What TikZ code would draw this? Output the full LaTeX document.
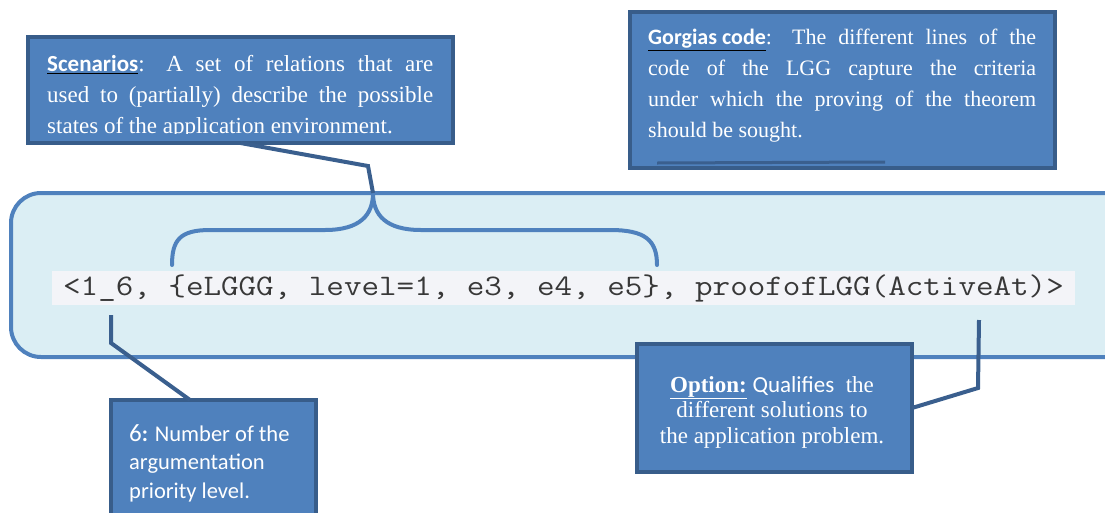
\documentclass[tikz,border=0pt]{standalone}
\usepackage{fontspec}
\setmainfont{Liberation Serif}
\newfontfamily\calib{Carlito}
\newfontfamily\mono[FakeStretch=1.144]{Latin Modern Mono}
\usetikzlibrary{calc}
\definecolor{boxblue}{HTML}{4F81BD}
\definecolor{boxedge}{HTML}{385D8A}
\definecolor{connc}{HTML}{3A5F8E}
\definecolor{lightbg}{HTML}{DBEEF4}
\definecolor{bracec}{HTML}{4F81BD}
\definecolor{stripc}{HTML}{F3F4F8}
\definecolor{codetext}{HTML}{383838}
\newcommand\ulb[1]{{\color{black}\underline{\textcolor{white}{\calib\bfseries #1}}}}
\tikzset{
  infobox/.style={draw=boxedge, fill=boxblue, line width=4pt, inner sep=0pt, outer sep=0pt, anchor=north west},
  conn/.style={draw=connc, line width=4pt},
  bracestyle/.style={draw=bracec, line width=4pt, line cap=round},
  boxtext/.style={text=white, inner sep=0pt, anchor=north west, align=left},
}
\begin{document}
\begin{tikzpicture}[x=1pt,y=-1pt]
\path[use as bounding box] (0,0) rectangle (1105,512);
\clip (0,0) rectangle (1105,512);

% main rounded panel
\node[draw=bracec, fill=lightbg, line width=4pt, rounded corners=30pt,
      minimum width=1125pt, minimum height=164pt, inner sep=0pt, outer sep=0pt,
      anchor=north west] (main) at (11,193) {};

% code strip
\node[fill=stripc, minimum width=1023pt, minimum height=34pt, inner sep=0pt,
      text=codetext, font=\mono\fontsize{29.8pt}{30pt}\selectfont] (code) at (563.5,288)
  {<1\_6, \{eLGGG, level=1, e3, e4, e5\}, proofofLGG(ActiveAt)>};

% brace
\coordinate (tip) at (373,193);
\draw[bracestyle] (172,265) .. controls (172,240) and (180,230) .. (210,230) -- (325,230)
  .. controls (360,230) and (373,215) .. (tip)
  .. controls (373,215) and (386,230) .. (421,230) -- (610,230)
  .. controls (645,230) and (657,240) .. (657,265);

% Scenarios box
\node[infobox, minimum width=425pt, minimum height=106pt] (scen) at (28,37) {};
\begin{scope}
\clip (30,39) rectangle (451,133);
\node[boxtext, font=\fontsize{23pt}{31pt}\selectfont] (scentext) at (47,55)
  {\makebox[386pt][s]{\ulb{Scenarios}: A set of relations that are}\\
   \makebox[386pt][s]{used to (partially) describe the possible}\\
   states of the application environment.};
\end{scope}
\coordinate (s1) at (368,166);
\draw[conn] (scen.south) -- (s1) -- (tip);

% Gorgias box
\node[infobox, minimum width=425pt, minimum height=156pt] (gorg) at (630,12) {};
\node[boxtext, font=\fontsize{22pt}{31pt}\selectfont] (gorgtext) at (648,29)
  {\makebox[388pt][s]{\ulb{Gorgias code}: The different lines of the}\\
   \makebox[388pt][s]{code of the LGG capture the criteria}\\
   \makebox[388pt][s]{under which the proving of the theorem}\\
   should be sought.};
\draw[connc, line width=3pt] ($(gorg.south west)+(27,-5)$) -- ($(gorg.south west)+(255,-6)$);

% 6 box
\node[infobox, minimum width=205pt, minimum height=130pt] (six) at (111,400) {};
\node[boxtext, font=\calib\fontsize{22.5pt}{28.5pt}\selectfont] (sixtext) at (129,424)
  {{\fontsize{25pt}{28.5pt}\selectfont 6}\textbf{:} Number of the\\ argumentation\\ priority level.};
\coordinate (k0) at (111,315);
\coordinate (k1) at (111,343);
\draw[conn] (k0) -- (k1) -- ($(six.north west)+(79,0)$);

% Option box
\node[infobox, minimum width=275pt, minimum height=128pt] (opt) at (637,344) {};
\node[text=white, inner sep=0pt, anchor=north, align=center,
      font=\fontsize{23pt}{25.5pt}\selectfont] (opttext) at (772,376)
  {{\bfseries\underline{Option:}} {\calib Qualifies}\ \ the\\ different solutions to\\ the application problem.};
\coordinate (o0) at (979,320);
\coordinate (o1) at (978,388);
\draw[conn] (o0) -- (o1) -- (opt.east);
\end{tikzpicture}
\end{document}
